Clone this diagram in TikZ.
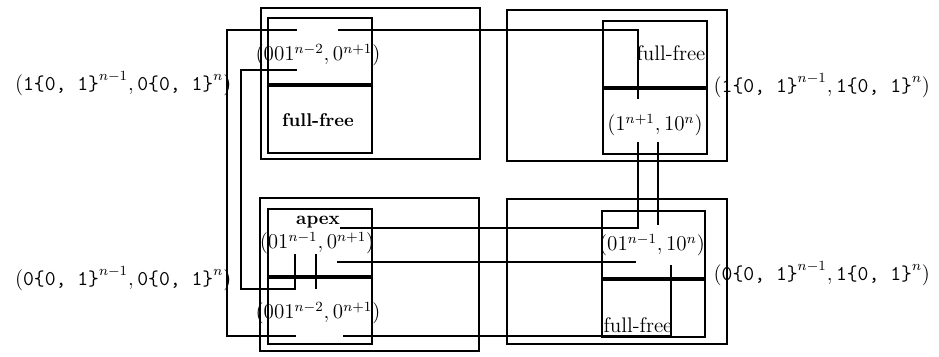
\documentclass[tikz,border=0pt]{standalone}
\usepackage{amsmath,amssymb}
\usepackage{tikz}

\begin{document}
\begin{tikzpicture}[x=0.02cm,y=-0.02cm,thick,
  lbl/.style={inner sep=0pt,font=\fontsize{12}{14}\selectfont},
  split/.style={line width=1.8pt}]

\useasboundingbox (0,0) rectangle (939,356);

% outer boxes
\draw (261,8)   rectangle (480,159);
\draw (507,10)  rectangle (727,161);
\draw (260,198) rectangle (479,351);
\draw (507,199) rectangle (727,344);

% inner boxes
\draw (268,18)  rectangle (372,153);
\draw (603,21)  rectangle (707,154);
\draw (268,209) rectangle (372,344);
\draw (602,211) rectangle (705,337);
\draw[split] (268,85)  -- (372,85);
\draw[split] (603,88)  -- (707,88);
\draw[split] (268,277) -- (372,277);
\draw[split] (602,279) -- (705,279);

% labels inside
\node[lbl] (tlstate) at (318,55)  {$(001^{n-2},0^{n+1})$};
\node[lbl,font=\fontsize{10.5}{13}\selectfont\bfseries] (tlfree) at (318,120) {full-free};
\node[lbl] (trfree)  at (671,53)  {full-free};
\node[lbl] (trstate) at (655,125) {$(1^{n+1},10^{n})$};
\node[lbl,font=\fontsize{10.5}{13}\selectfont\bfseries] (apex) at (318,222) {apex};
\node[lbl] (blup)    at (317,243) {$(01^{n-1},0^{n+1})$};
\node[lbl] (bllow)   at (318,313) {$(001^{n-2},0^{n+1})$};
\node[lbl] (brstate) at (652,245) {$(01^{n-1},10^{n})$};
\node[lbl] (brfree)  at (638,325) {full-free};

% labels outside
\node[lbl,anchor=base east] (tlname) at (232,90)
  {$(\texttt{1\{0, 1\}}^{n-1},\texttt{0\{0, 1\}}^{n})$};
\node[lbl,anchor=base east] (blname) at (232,285)
  {$(\texttt{0\{0, 1\}}^{n-1},\texttt{0\{0, 1\}}^{n})$};
\node[lbl,anchor=base west] (trname) at (713,92)
  {$(\texttt{1\{0, 1\}}^{n-1},\texttt{1\{0, 1\}}^{n})$};
\node[lbl,anchor=base west] (brname) at (713,280)
  {$(\texttt{0\{0, 1\}}^{n-1},\texttt{1\{0, 1\}}^{n})$};

% ends of the wires
\coordinate (p1) at (297,30);  \coordinate (p2) at (296,336);
\coordinate (q1) at (338,30);  \coordinate (q2) at (638,99);
\coordinate (r1) at (297,70);  \coordinate (r2) at (295,254);
\coordinate (s1) at (316,254); \coordinate (s2) at (316,289);
\coordinate (t1) at (638,142); \coordinate (t2) at (340,228);
\coordinate (u1) at (658,142); \coordinate (u2) at (658,225);
\coordinate (v1) at (337,262); \coordinate (v2) at (636,262);
\coordinate (w1) at (343,336); \coordinate (w2) at (671,265);

\draw (p1) -- (227,30) -- (227,336) -- (p2);
\draw (q1) -- (q1 -| q2) -- (q2);
\draw (r1) -- (241,70) -- (241,289) -- (295,289) -- (r2);
\draw (s1) -- (s2);
\draw (t1) -- (t1 |- t2) -- (t2);
\draw (u1) -- (u2);
\draw (v1) -- (v2);
\draw (w1) -- (w1 -| w2) -- (w2);

\end{tikzpicture}
\end{document}
